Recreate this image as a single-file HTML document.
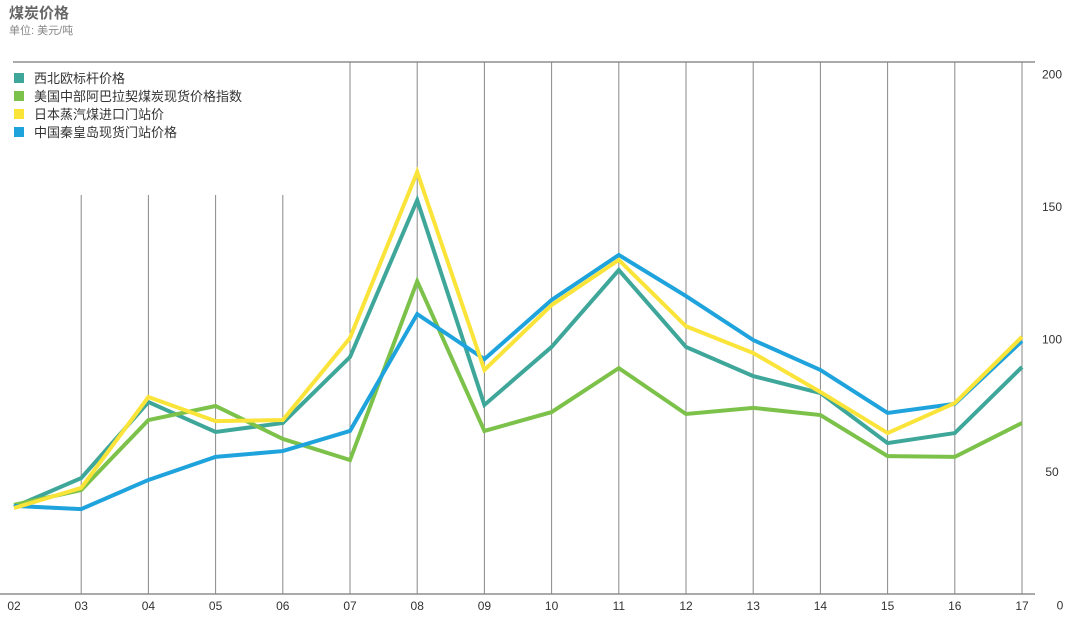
<!DOCTYPE html>
<html><head><meta charset="utf-8"><style>
body{margin:0;background:#fff;font-family:"Liberation Sans","Noto Sans CJK SC",sans-serif;}
#wrap{position:relative;width:1080px;height:634px;overflow:hidden;}
</style></head><body><div id="wrap">
<svg id="svg" width="1080" height="634" xmlns="http://www.w3.org/2000/svg" style="position:absolute;left:0;top:0">
<text x="9" y="18" font-size="15" font-weight="bold" fill="#666" font-family="Liberation Sans,Noto Sans CJK SC,sans-serif">煤炭价格</text>
<text x="9" y="34" font-size="11" fill="#888" font-family="Liberation Sans,Noto Sans CJK SC,sans-serif">单位: 美元/吨</text>
<g id="grid"></g><g id="lines"></g><g id="legend"></g><g id="labels"></g>
</svg>
<script>
const years=["02","03","04","05","06","07","08","09","10","11","12","13","14","15","16","17"];
const yTicks=[0,50,100,150,200];
const seriesNames=["西北欧标杆价格","美国中部阿巴拉契煤炭现货价格指数","日本蒸汽煤进口门站价","中国秦皇岛现货门站价格"];
const seriesColors=["#3ea79a","#7cc24a","#fbe43a","#1fa3dc"];
const nweValues=[36.8,47.7,76.4,65.1,68.5,93.4,152.6,75.3,97.2,126.2,97.2,86.2,79.8,60.9,64.7,89.6];
const usValues=[37.6,43.2,69.6,74.9,62.5,54.5,122,65.5,72.6,89.2,71.9,74.2,71.5,56,55.7,68.5];
const japanValues=[36.4,44,78.3,69.2,69.6,100.6,163.2,88.5,113,130,105,94.9,80.2,64.7,76,101];
const chinaValues=[37.2,36,47,55.7,57.9,65.5,109.6,92.6,114.9,131.9,116.4,99.8,88.5,72.3,75.7,99.4];
const allSeries=[nweValues,usValues,japanValues,chinaValues];
const NS="http://www.w3.org/2000/svg";
const xs=i=>14+i*67.2;
const ys=v=>604.5-v*2.65;
function mk(t,a,p){const e=document.createElementNS(NS,t);for(const k in a)e.setAttribute(k,a[k]);p.appendChild(e);return e;}
const grid=document.getElementById('grid'),lines=document.getElementById('lines'),leg=document.getElementById('legend'),lab=document.getElementById('labels');
let tl=mk('line',{x1:13,y1:62,x2:1035,y2:62,stroke:'#555','stroke-width':1},grid);


let bl=mk('line',{x1:0,y1:594,x2:1035,y2:594,stroke:'#555','stroke-width':1},grid);


years.forEach((y,i)=>{
 if(i>0){const top=(i<5)?195:62;
  const g=mk('line',{x1:xs(i),y1:top,x2:xs(i),y2:594,stroke:'#888','stroke-width':1},grid);
  
  }
 const t=mk('text',{x:xs(i),y:610,'font-size':12,fill:'#333','text-anchor':'middle'},lab);
 t.textContent=y;
 
 
});
yTicks.forEach(v=>{
 const t=mk('text',{x:v===0?1060:1052,y:ys(v)+(v===0?5:4),'font-size':12,fill:'#333','text-anchor':'middle'},lab);
 t.textContent=v;
 
 
});
[0,1,3,2].forEach(s=>{
 const pts=allSeries[s].map((v,i)=>xs(i)+','+ys(v)).join(' ');
 const p=mk('polyline',{points:pts,fill:'none',stroke:seriesColors[s],'stroke-width':4,'stroke-linejoin':'miter'},lines);
 
 
});
seriesNames.forEach((n,i)=>{
 const r=mk('rect',{x:14,y:73+i*18,width:10,height:10,fill:seriesColors[i]},leg);
 
 
 const t=mk('text',{x:34,y:83+i*18,'font-size':13,fill:'#333'},leg);
 t.textContent=n;
 
 
});
</script>
</div></body></html>
